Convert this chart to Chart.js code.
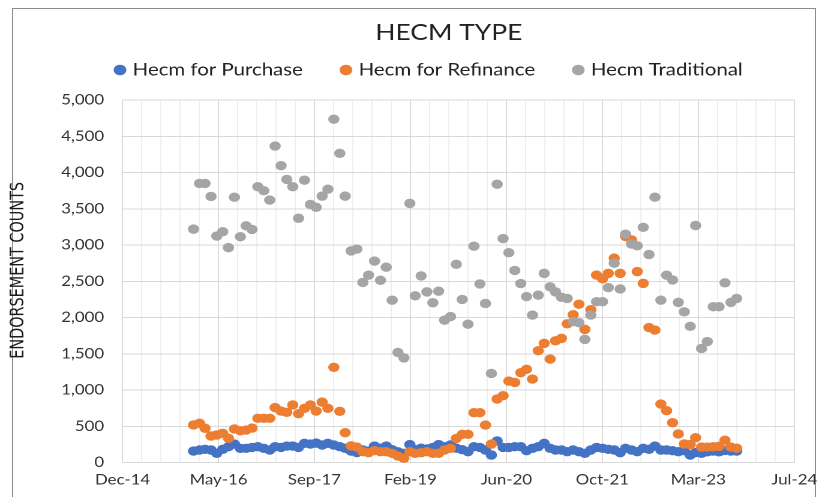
<!DOCTYPE html>
<html>
<head>
<meta charset="utf-8">
<title>HECM TYPE</title>
<script src="https://cdn.jsdelivr.net/npm/chart.js@4.4.1/dist/chart.umd.min.js"></script>
<style>
  html, body { margin: 0; padding: 0; background: #fff; }
  body { width: 828px; height: 497px; overflow: hidden; position: relative; }
  .frame { position: absolute; left: 12px; top: 8px; width: 802px; height: 520px; border: 1px solid #8c8c8c; }
  /* the original screenshot is stretched sideways, so the chart is drawn narrow and widened */
  .stretch { position: absolute; left: 0; top: 0; width: 690px; height: 497px; transform: scaleX(1.2); transform-origin: 0 0; }
</style>
</head>
<body>
<div class="frame"></div>
<div class="stretch"><canvas id="hecmChart"></canvas></div>
<script>
const months = [
  '2016-01','2016-02','2016-03','2016-04','2016-05','2016-06','2016-07','2016-08','2016-09','2016-10','2016-11','2016-12',
  '2017-01','2017-02','2017-03','2017-04','2017-05','2017-06','2017-07','2017-08','2017-09','2017-10','2017-11','2017-12',
  '2018-01','2018-02','2018-03','2018-04','2018-05','2018-06','2018-07','2018-08','2018-09','2018-10','2018-11','2018-12',
  '2019-01','2019-02','2019-03','2019-04','2019-05','2019-06','2019-07','2019-08','2019-09','2019-10','2019-11','2019-12',
  '2020-01','2020-02','2020-03','2020-04','2020-05','2020-06','2020-07','2020-08','2020-09','2020-10','2020-11','2020-12',
  '2021-01','2021-02','2021-03','2021-04','2021-05','2021-06','2021-07','2021-08','2021-09','2021-10','2021-11','2021-12',
  '2022-01','2022-02','2022-03','2022-04','2022-05','2022-06','2022-07','2022-08','2022-09','2022-10','2022-11','2022-12',
  '2023-01','2023-02','2023-03','2023-04','2023-05','2023-06','2023-07','2023-08','2023-09','2023-10'
];

const purchase = [
  161, 175, 184, 175, 129, 184, 221, 257, 198, 198, 211, 221,
  198, 175, 221, 211, 230, 230, 211, 267, 257, 270, 244, 267,
  244, 221, 198, 160, 140, 175, 160, 230, 200, 230, 180, 150,
  130, 250, 180, 200, 190, 210, 250, 221, 244, 200, 180, 152,
  221, 211, 175, 106, 300, 211, 211, 221, 221, 165, 198, 221,
  267, 198, 175, 175, 152, 175, 152, 129, 175, 211, 198, 184,
  175, 138, 198, 175, 152, 198, 184, 230, 175, 175, 165, 152,
  165, 106, 140, 130, 150, 160, 150, 170, 160, 160
];

const refinance = [
  520, 545, 475, 368, 382, 405, 336, 465, 440, 450, 478, 612,
  612, 612, 760, 712, 695, 796, 675, 750, 796, 712, 835, 750,
  1315, 708, 414, 232, 215, 152, 138, 165, 152, 152, 129, 92,
  60, 152, 129, 138, 152, 129, 129, 175, 198, 335, 391, 391,
  689, 689, 519, 257, 878, 924, 1126, 1107, 1241, 1287, 1153, 1544,
  1645, 1428, 1680, 1714, 1915, 2040, 2185, 1838, 2110, 2587, 2535, 2610,
  2820, 2610, 3120, 3072, 2634, 2472, 1863, 1829, 809, 717, 552, 396,
  258, 250, 345, 215, 215, 220, 225, 310, 215, 200
];

const traditional = [
  3220, 3850, 3850, 3670, 3125, 3185, 2965, 3660, 3115, 3265, 3215, 3805,
  3750, 3620, 4365, 4095, 3905, 3805, 3370, 3895, 3560, 3520, 3675, 3770,
  4735, 4265, 3675, 2920, 2945, 2485, 2585, 2780, 2515, 2695, 2240, 1520,
  1445, 3575, 2300, 2575, 2355, 2205, 2365, 1965, 2015, 2735, 2250, 1910,
  2985, 2465, 2195, 1230, 3840, 3090, 2895, 2650, 2470, 2290, 2035, 2310,
  2610, 2425, 2355, 2280, 2265, 1945, 1930, 1700, 2035, 2220, 2220, 2415,
  2750, 2395, 3150, 3015, 2990, 3245, 2870, 3660, 2240, 2585, 2520, 2210,
  2080, 1880, 3270, 1575, 1670, 2150, 2150, 2480, 2210, 2265
];

// x axis runs on Excel day serials, majors every 500 days, minor grid every 100
const xTickLabels = ['Dec-14', 'May-16', 'Sep-17', 'Feb-19', 'Jun-20', 'Oct-21', 'Mar-23', 'Jul-24'];
const xMin = 42000;
const xMax = 45500;
const yMax = 5000;

const EXCEL_EPOCH = Date.UTC(1899, 11, 30);
const DAY = 86400000;

function monthSerial(m) {
  const [y, mo] = m.split('-').map(Number);
  return (Date.UTC(y, mo - 1, 1) - EXCEL_EPOCH) / DAY;
}

function toPoints(values) {
  return months.map((m, i) => ({ x: monthSerial(m), y: values[i] }));
}

const textColor = '#333333';
const tickFont = { family: 'Lato', size: 14 };

// nudges title / legend / axis title into the spots Excel put them
const headerPlugin = {
  id: 'header',
  beforeUpdate(chart) {
    const legend = chart.legend;
    if (legend && !legend._patched) {
      const fit = legend.fit;
      legend.fit = function () {
        fit.call(this);
        this.height = 72.5;
      };
      legend._patched = true;
    }
  },
  afterLayout(chart) {
    const title = chart.titleBlock;
    const dx = 374 - (title.left + title.right) / 2;
    title.left += dx;
    title.right += dx;

    const legend = chart.legend;
    const pad = legend.options.labels.padding;
    const start = (legend.left + pad + legend.right - legend.lineWidths[0]) / 2;
    const ldx = 98 - start;
    legend.left += ldx;
    legend.right += ldx;

    const y = chart.scales.y;
    if (!y._titlePatched) {
      const drawTitle = y.drawTitle;
      y.drawTitle = function () {
        this.ctx.save();
        this.ctx.translate(0, -11);
        drawTitle.call(this);
        this.ctx.restore();
      };
      y._titlePatched = true;
    }
  }
};

new Chart(document.getElementById('hecmChart'), {
  type: 'scatter',
  data: {
    datasets: [
      { label: 'Hecm Traditional', data: toPoints(traditional), backgroundColor: '#A5A5A5' },
      { label: 'Hecm for Refinance', data: toPoints(refinance), backgroundColor: '#ED7D31' },
      { label: 'Hecm for Purchase', data: toPoints(purchase), backgroundColor: '#4472C4' }
    ]
  },
  options: {
    responsive: true,
    maintainAspectRatio: false,
    animation: false,
    devicePixelRatio: 2,
    elements: {
      point: { radius: 4.7, hoverRadius: 4.7, borderWidth: 0, pointStyle: 'circle' }
    },
    layout: { padding: { left: 0, right: 25.8, top: 0, bottom: 0 } },
    plugins: {
      title: {
        display: true,
        text: 'HECM TYPE',
        color: '#222222',
        font: { family: 'Lato', size: 22, weight: 'normal' },
        padding: { top: 19.8, bottom: -18.7 }
      },
      legend: {
        reverse: true,
        labels: {
          usePointStyle: true,
          pointStyle: 'circle',
          boxWidth: 4,
          boxHeight: 7.5,
          padding: 34,
          color: '#222222',
          font: { family: 'Lato', size: 17 }
        }
      },
      tooltip: { enabled: false }
    },
    scales: {
      x: {
        type: 'linear',
        min: xMin,
        max: xMax,
        border: { display: false },
        grid: {
          drawTicks: false,
          color: ctx => ((ctx.tick.value - xMin) % 500 === 0 ? '#d9d9d9' : '#eeeeee')
        },
        ticks: {
          stepSize: 100,
          autoSkip: false,
          maxRotation: 0,
          padding: 9,
          color: textColor,
          font: tickFont,
          callback: value => {
            const k = (value - xMin) / 500;
            return Number.isInteger(k) ? xTickLabels[k] : '';
          }
        },
        afterFit(axis) { axis.height = 34.3; }
      },
      y: {
        min: 0,
        max: yMax,
        border: { display: false },
        grid: { drawTicks: false, color: '#d9d9d9' },
        ticks: {
          stepSize: 500,
          padding: 15.4,
          color: textColor,
          font: tickFont,
          callback: value => value.toLocaleString('en-US')
        },
        title: {
          display: true,
          text: 'ENDORSEMENT COUNTS',
          color: '#1a1a1a',
          font: { family: "'Liberation Sans Narrow', 'DejaVu Sans Condensed', sans-serif", size: 16 },
          padding: { top: 5.5, bottom: 0 }
        },
        afterFit(axis) { axis.width = 102.1; }
      }
    }
  },
  plugins: [headerPlugin]
});
</script>
</body>
</html>
